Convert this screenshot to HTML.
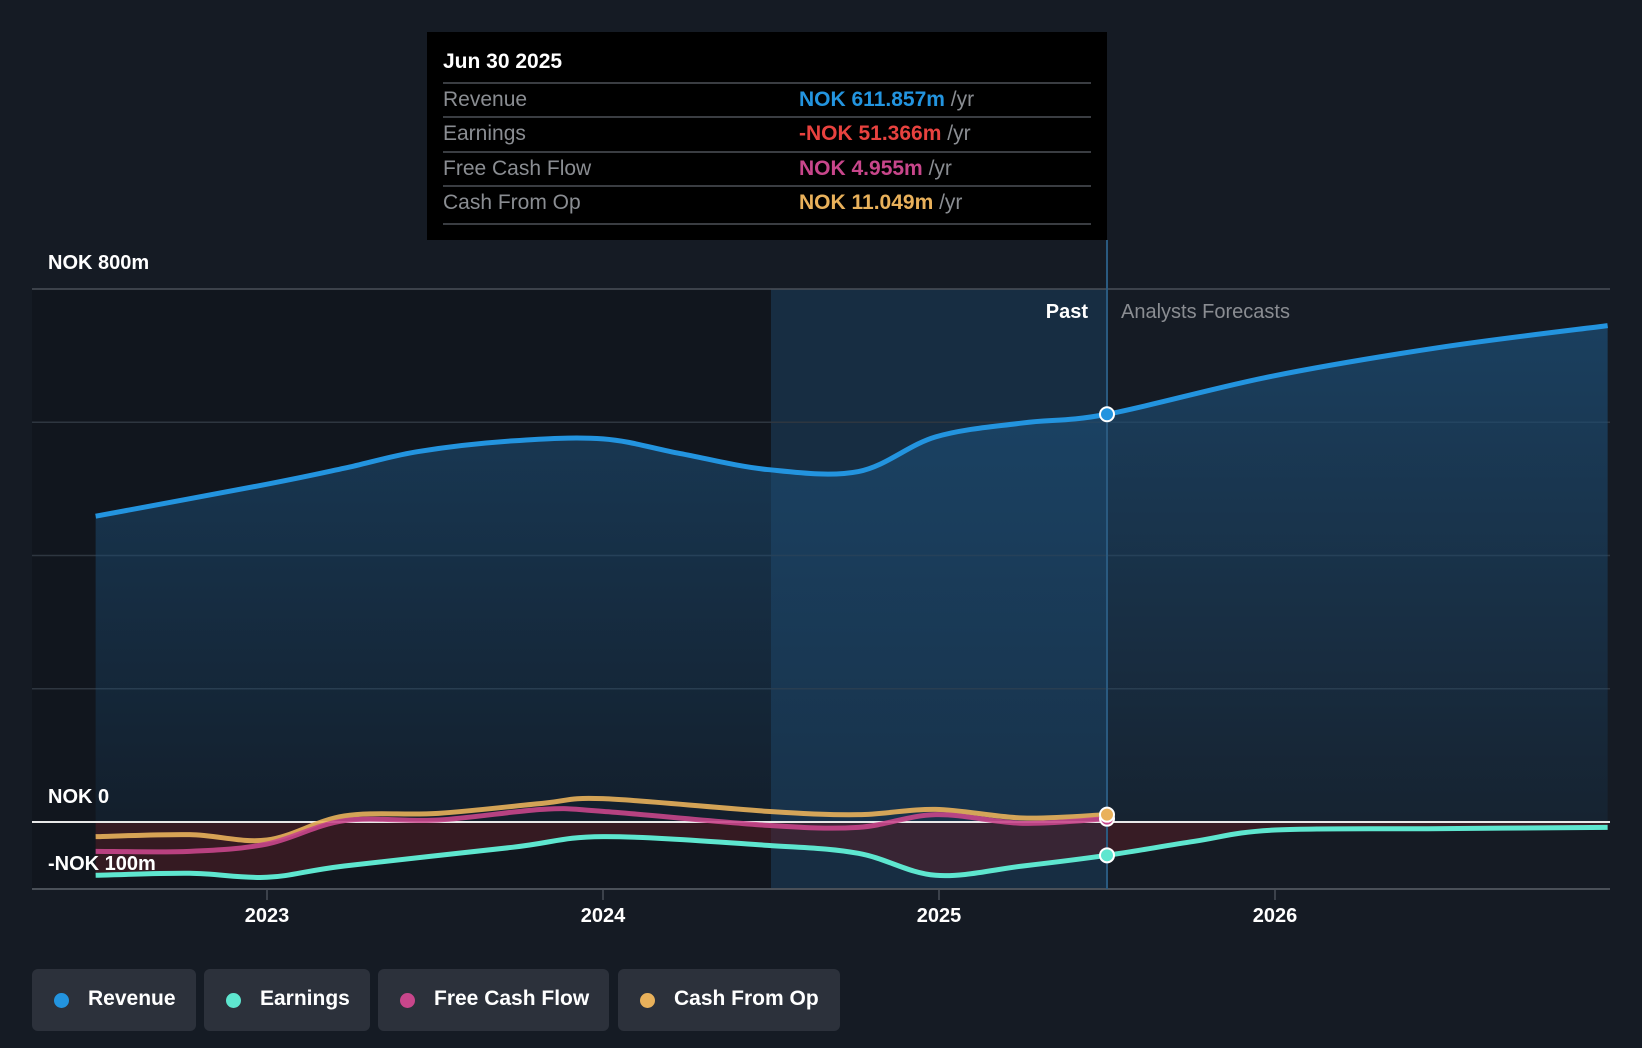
<!DOCTYPE html>
<html><head><meta charset="utf-8"><style>
body{margin:0;width:1642px;height:1048px;background:#151b24;overflow:hidden;font-family:"Liberation Sans",sans-serif;}
svg{position:absolute;left:0;top:0}
.tt{position:absolute;left:427px;top:32px;width:680px;height:208px;background:#000;color:#fff}
.tt .h{position:absolute;left:16px;top:18px;font-size:21px;font-weight:bold}
.row{position:absolute;left:16px;width:648px;height:34px;border-top:2px solid #3a3d42;font-size:21px;color:#8a8d92}
.row span.l{position:absolute;left:0;top:4px}
.row span.v{position:absolute;left:356px;top:4px;font-weight:bold}
.row span.v i{font-style:normal;font-weight:normal;color:#8a8d92}
.lg{position:absolute;top:969px;height:62px;background:#2c313b;border-radius:6px;color:#fff;font-size:21px;font-weight:bold}
.lg b{position:absolute;left:22px;top:24px;width:15px;height:15px;border-radius:50%}
.lg span{position:absolute;left:56px;top:18px}
.lab{position:absolute;color:#fff;font-size:20px;font-weight:bold}
</style></head><body>
<svg id="ch" width="1642" height="1048"></svg>
<div class="lab" style="left:48px;top:252px">NOK 800m</div>
<div class="lab" style="left:48px;top:786px">NOK 0</div>
<div class="lab" style="left:48px;top:853px">-NOK 100m</div>
<div class="lab" style="left:1040px;top:301px;width:48px;text-align:right">Past</div>
<div class="lab" style="left:1121px;top:301px;color:#8a8d92;font-weight:normal">Analysts Forecasts</div>
<div class="tt">
<div class="h">Jun 30 2025</div>
<div class="row" style="top:50px"><span class="l">Revenue</span><span class="v" style="color:#2394df">NOK 611.857m <i>/yr</i></span></div>
<div class="row" style="top:84px"><span class="l">Earnings</span><span class="v" style="color:#e8423f">-NOK 51.366m <i>/yr</i></span></div>
<div class="row" style="top:119px"><span class="l">Free Cash Flow</span><span class="v" style="color:#c8468b">NOK 4.955m <i>/yr</i></span></div>
<div class="row" style="top:153px;height:36px;border-bottom:2px solid #3a3d42"><span class="l">Cash From Op</span><span class="v" style="color:#e9b15b">NOK 11.049m <i>/yr</i></span></div>
</div>
<div class="lg" style="left:32px;width:164px"><b style="background:#2394df"></b><span>Revenue</span></div>
<div class="lg" style="left:204px;width:166px"><b style="background:#5ee6cf"></b><span>Earnings</span></div>
<div class="lg" style="left:378px;width:231px"><b style="background:#c8468b"></b><span>Free Cash Flow</span></div>
<div class="lg" style="left:618px;width:222px"><b style="background:#e9b15b"></b><span>Cash From Op</span></div>
<script>
const revT=[2022.49,2023,2023.23,2023.45,2023.73,2024,2024.23,2024.49,2024.76,2024.99,2025.25,2025.5,2025.99,2026.5,2026.99];
const revV=[459,507,531,556,572,575,553,529,526,578,599,612,669,713,745];
const earT=[2022.49,2022.77,2023,2023.23,2023.73,2024,2024.49,2024.76,2024.99,2025.25,2025.5,2025.76,2026.0,2026.5,2026.99];
const earV=[-80,-77,-83,-66,-38,-22,-35,-47,-80,-66,-50,-29,-12,-10,-8];
const fcfT=[2022.49,2022.77,2023,2023.23,2023.51,2023.82,2024,2024.49,2024.76,2024.99,2025.25,2025.5];
const fcfV=[-44,-44,-33,2,3,19,16,-5,-8,11,-2,5];
const cfoT=[2022.49,2022.77,2023,2023.23,2023.51,2023.82,2024,2024.49,2024.76,2024.99,2025.25,2025.5];
const cfoV=[-22,-19,-27,9,13,28,35,16,11,19,6,11];
const yTicks=[800,600,400,200,0];
const xTicks=[2023,2024,2025,2026];
const X=t=>267+(t-2023)*336, Y=v=>822-v*(533/800);
const svg=document.getElementById('ch'),NS='http://www.w3.org/2000/svg';
function mk(tag,a,name){const e=document.createElementNS(NS,tag);for(const k in a)e.setAttribute(k,a[k]);


svg.appendChild(e);return e;}
function path(T,V){const p=T.map((t,i)=>[X(t),Y(V[i])]);const n=p.length;let d='M'+p[0][0]+','+p[0][1];
const tan=p.map((q,i)=>{const a=p[Math.max(0,i-1)],b=p[Math.min(n-1,i+1)];return [(b[0]-a[0])/2,(b[1]-a[1])/2];});
for(let i=0;i<n-1;i++){const a=p[i],b=p[i+1];const s=1/3;
d+=` C${a[0]+tan[i][0]*s},${a[1]+tan[i][1]*s} ${b[0]-tan[i+1][0]*s},${b[1]-tan[i+1][1]*s} ${b[0]},${b[1]}`;}return d;}
const defs=mk('defs',{},'defs');
defs.innerHTML='<linearGradient id="rg" x1="0" y1="0" x2="0" y2="1"><stop offset="0" stop-color="#1d4f78" stop-opacity="0.7"/><stop offset="1" stop-color="#1d4f78" stop-opacity="0.15"/></linearGradient>';
mk('rect',{x:32,y:289,width:X(2024.5)-32,height:600,fill:'#0e1218',opacity:0.5},'early-shade');
mk('rect',{x:X(2024.5),y:289,width:X(2025.5)-X(2024.5),height:600,fill:'#1b4468',opacity:0.45},'past-highlight');
yTicks.forEach(v=>mk('line',{x1:32,x2:1610,y1:Y(v),y2:Y(v),stroke:v==800?'#4a5058':'#2e3640','stroke-width':1.5},'gridline-'+v));
const rp=path(revT,revV);
mk('path',{d:rp+` L${X(2026.99)},${Y(0)} L${X(2022.49)},${Y(0)} Z`,fill:'url(#rg)'},'revenue-area');
const ep=path(earT,earV);
mk('path',{d:ep+` L${X(2026.99)},${Y(0)} L${X(2022.49)},${Y(0)} Z`,fill:'#5a1e26',opacity:0.5},'earnings-area');
mk('line',{x1:32,x2:1610,y1:Y(0),y2:Y(0),stroke:'#e8e8e8','stroke-width':2},'zero-line');
mk('line',{x1:32,x2:1610,y1:889,y2:889,stroke:'#4a5058','stroke-width':2},'x-axis');
mk('line',{x1:X(2025.5),x2:X(2025.5),y1:240,y2:889,stroke:'#2a5a80','stroke-width':2},'past-divider');
xTicks.forEach(t=>{mk('line',{x1:X(t),x2:X(t),y1:889,y2:900,stroke:'#4a5058','stroke-width':1.5},'x-tick-'+t);
const tx=mk('text',{x:X(t),y:922,fill:'#fff','font-size':20,'font-weight':'bold','text-anchor':'middle','font-family':'Liberation Sans'},'x-label-'+t);tx.textContent=t;});
mk('path',{d:path(cfoT,cfoV),fill:'none',stroke:'#e9b15b','stroke-width':5,opacity:0.9},'cfo-line');
mk('path',{d:path(fcfT,fcfV),fill:'none',stroke:'#c8468b','stroke-width':5,opacity:0.9},'fcf-line');
mk('path',{d:ep,fill:'none',stroke:'#5ee6cf','stroke-width':5},'earnings-line');
mk('path',{d:rp,fill:'none',stroke:'#2394df','stroke-width':5},'revenue-line');
[[revV,revT,'#2394df','revenue'],[earV,earT,'#5ee6cf','earnings'],[fcfV,fcfT,'#c8468b','fcf'],[cfoV,cfoT,'#e9b15b','cfo']].forEach(([V,T,c,n])=>{
const i=T.indexOf(2025.5);mk('circle',{cx:X(T[i]),cy:Y(V[i]),r:7,fill:c,stroke:'#fff','stroke-width':2},n+'-marker');});
</script>
</body></html>
